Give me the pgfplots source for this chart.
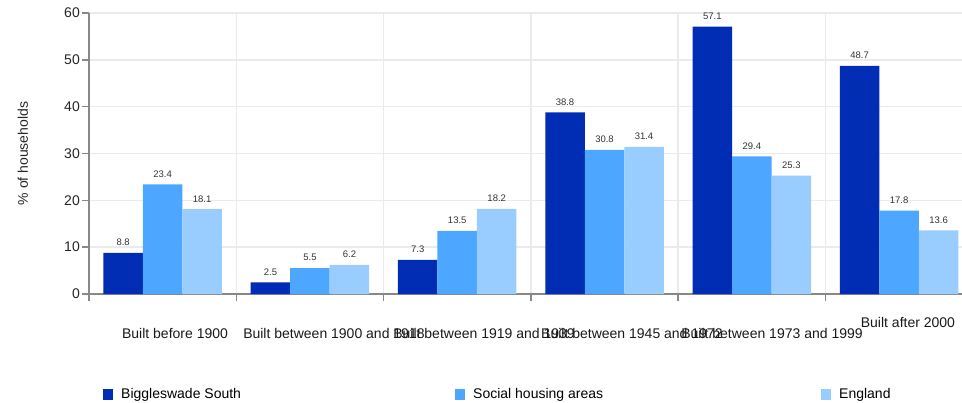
\documentclass[border=0pt]{standalone}
\usepackage{pgfplots}
\pgfplotsset{compat=1.18}
\usepackage{fontspec}
\setmainfont{Liberation Sans}
\definecolor{cA}{RGB}{0,45,179}
\definecolor{cB}{RGB}{77,166,255}
\definecolor{cC}{RGB}{153,204,255}
\definecolor{gridc}{RGB}{235,235,235}
\definecolor{axc}{RGB}{136,136,136}
\begin{document}
\begin{tikzpicture}
\useasboundingbox (0pt,0pt) rectangle (962pt,-403pt);
\begin{axis}[
  at={(89pt,-294pt)}, anchor=south west,
  scale only axis, width=873pt, height=281pt,
  xmin=-0.5, xmax=5.427, ymin=0, ymax=60,
  clip=false,
  axis x line*=bottom, axis y line*=left,
  axis line style={draw=axc, line width=1.5pt},
  ytick={0,10,...,60},
  xtick={-0.5,0.5,...,4.5}, xticklabels={},
  tick align=outside, major tick length=7pt,
  tick style={draw=axc, line width=1.5pt},
  grid=major, grid style={draw=gridc, line width=1.5pt},
  /pgf/number format/assume math mode=true,
  yticklabel style={font=\fontsize{14}{16}\selectfont, color=black!85, inner sep=0pt, anchor=east, xshift=-2pt},
  every axis y label/.style={at={(axis description cs:-0.0756,0.5)}, rotate=90, anchor=center},
  ylabel={\% of households},
  label style={font=\fontsize{14}{16}\selectfont, color=black!85},
  ybar=0pt, bar width=39.5pt,
  nodes near coords,
  every node near coord/.append style={font=\fontsize{9.5}{11}\selectfont, color=black!80, anchor=center, yshift=10.5pt},
  legend columns=3,
  legend style={draw=none, fill=none, at={(axis description cs:0,0)}, anchor=west, xshift=14pt, yshift=-100pt,
    font=\fontsize{14}{16}\selectfont, inner sep=0pt, nodes={inner sep=0pt},
    /tikz/every odd column/.append style={column sep=8pt},
    /tikz/every even column/.append style={column sep=0pt}},
]
\addplot[fill=cA, draw=none, legend image code/.code={\fill[cA] (0pt,-5.5pt) rectangle (10pt,5.5pt);}] coordinates {(0,8.8) (1,2.5) (2,7.3) (3,38.8) (4,57.1) (5,48.7)};
\addlegendentry{\makebox[334pt][l]{Biggleswade South}}
\addplot[fill=cB, draw=none, legend image code/.code={\fill[cB] (0pt,-5.5pt) rectangle (10pt,5.5pt);}] coordinates {(0,23.4) (1,5.5) (2,13.5) (3,30.8) (4,29.4) (5,17.8)};
\addlegendentry{\makebox[348pt][l]{Social housing areas}}
\addplot[fill=cC, draw=none, legend image code/.code={\fill[cC] (0pt,-5.5pt) rectangle (10pt,5.5pt);}] coordinates {(0,18.1) (1,6.2) (2,18.2) (3,31.4) (4,25.3) (5,13.6)};
\addlegendentry{England}
\tikzset{catlab/.style={font=\fontsize{14}{16}\selectfont, color=black!90, anchor=center, inner sep=0pt}}
\node[catlab, yshift=-39pt] at (axis cs:0.084,0) {Built before 1900};
\node[catlab, yshift=-39pt] at (axis cs:1.163,0) {Built between 1900 and 1918};
\node[catlab, yshift=-39pt] at (axis cs:2.182,0) {Built between 1919 and 1939};
\node[catlab, yshift=-39pt] at (axis cs:3.186,0) {Built between 1945 and 1972};
\node[catlab, yshift=-39pt] at (axis cs:4.137,0) {Built between 1973 and 1999};
\node[catlab, yshift=-28pt] at (axis cs:5.060,0) {Built after 2000};
\end{axis}
\end{tikzpicture}
\end{document}
